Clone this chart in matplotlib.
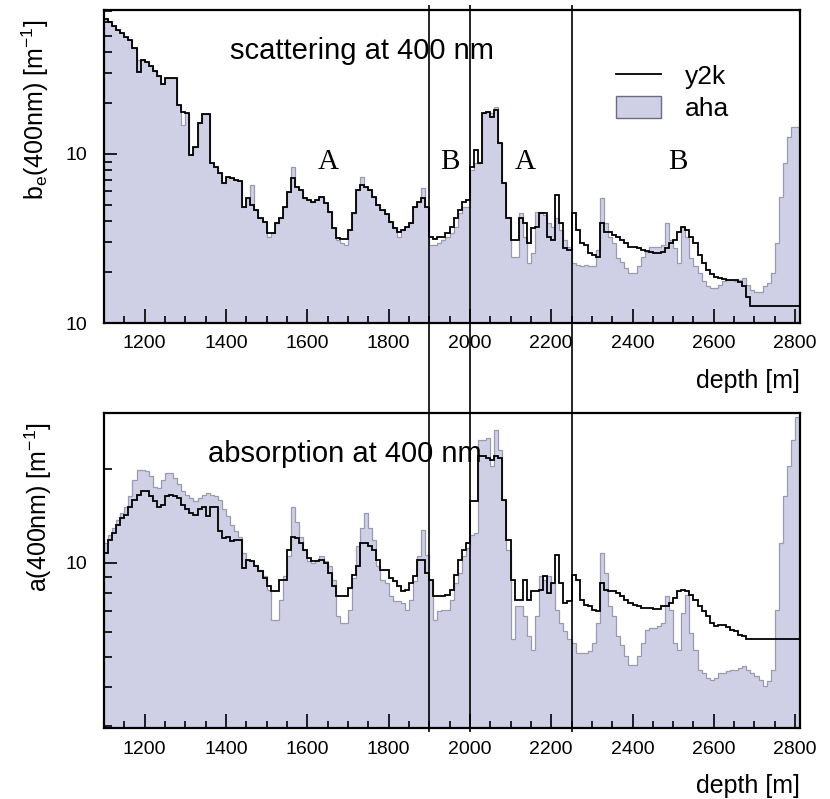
import numpy as np
import matplotlib
matplotlib.use('Agg')
import matplotlib.pyplot as plt
import matplotlib.ticker as mticker
import matplotlib.transforms as mtransforms
from matplotlib.lines import Line2D
from matplotlib.patches import Patch

plt.rcParams['font.family'] = ['Liberation Sans', 'DejaVu Sans']
plt.rcParams['mathtext.fontset'] = 'custom'
plt.rcParams['mathtext.rm'] = 'Liberation Sans'

# 10 m depth bins, 1100 .. 2810 m
depth_edges = np.arange(1100, 2811, 10)

# scattering b_e(400nm) [1/m]
scat_y2k = [0.627, 0.599, 0.572, 0.542, 0.518, 0.490, 0.469, 0.422, 0.307, 0.360,
            0.352, 0.332, 0.311, 0.290, 0.260, 0.280, 0.283, 0.280, 0.195, 0.178,
            0.174, 0.0987, 0.1105, 0.152, 0.172, 0.172, 0.0881, 0.0841, 0.0769, 0.0670,
            0.0734, 0.0718, 0.0702, 0.0696, 0.0488, 0.0546, 0.0499, 0.0466, 0.0416, 0.0398,
            0.0342, 0.0342, 0.0389, 0.0416, 0.0488, 0.0598, 0.0718, 0.0641, 0.0612, 0.0546,
            0.0534, 0.0522, 0.0534, 0.0559, 0.0511, 0.0456, 0.0363, 0.0317, 0.0313, 0.0313,
            0.0355, 0.0446, 0.0612, 0.0655, 0.0641, 0.0612, 0.0559, 0.0499, 0.0466, 0.0442,
            0.0398, 0.0363, 0.0347, 0.0355, 0.0372, 0.0389, 0.0488, 0.0522, 0.0546, 0.0488,
            0.0324, 0.0313, 0.0324, 0.0324, 0.0339, 0.0372, 0.0416, 0.0466, 0.0522, 0.0534,
            0.0841, 0.1056, 0.0881, 0.174, 0.178, 0.166, 0.182, 0.1157, 0.0670, 0.0416,
            0.0310, 0.0310, 0.0416, 0.0389, 0.0296, 0.0363, 0.0372, 0.0446, 0.0446, 0.0324,
            0.0310, 0.0572, 0.0389, 0.0277, 0.0270, 0.0446, 0.0355, 0.0296, 0.0290, 0.0258,
            0.0253, 0.0247, 0.0389, 0.0347, 0.0347, 0.0332, 0.0324, 0.0310, 0.0296, 0.0283,
            0.0281, 0.0277, 0.0270, 0.0268, 0.0264, 0.0260, 0.0260, 0.0264, 0.0277, 0.0296,
            0.0310, 0.0347, 0.0372, 0.0355, 0.0324, 0.0296, 0.0253, 0.0225, 0.0206, 0.0194,
            0.0188, 0.0184, 0.0182, 0.0180, 0.0180, 0.0179, 0.0174, 0.0165, 0.0143, 0.0126,
            0.0126, 0.0126, 0.0126, 0.0126, 0.0126, 0.0126, 0.0126, 0.0126, 0.0126, 0.0126, 0.0126]

scat_aha = [0.627, 0.599, 0.572, 0.542, 0.518, 0.490, 0.469, 0.422, 0.360, 0.360,
            0.352, 0.332, 0.311, 0.290, 0.260, 0.280, 0.283, 0.280, 0.195, 0.148,
            0.174, 0.0987, 0.1105, 0.152, 0.172, 0.172, 0.0881, 0.0841, 0.0769, 0.0670,
            0.0734, 0.0718, 0.0702, 0.0696, 0.0488, 0.0546, 0.0655, 0.0466, 0.0416, 0.0398,
            0.0324, 0.0342, 0.0389, 0.0416, 0.0488, 0.0598, 0.0841, 0.0641, 0.0612, 0.0546,
            0.0534, 0.0522, 0.0534, 0.0559, 0.0511, 0.0456, 0.0363, 0.0310, 0.0296, 0.0290,
            0.0355, 0.0446, 0.0612, 0.0734, 0.0641, 0.0612, 0.0559, 0.0499, 0.0466, 0.0442,
            0.0398, 0.0363, 0.0324, 0.0355, 0.0372, 0.0389, 0.0488, 0.0522, 0.0626, 0.0488,
            0.0290, 0.0290, 0.0296, 0.0310, 0.0324, 0.0339, 0.0372, 0.0446, 0.0488, 0.0488,
            0.0804, 0.0881, 0.0881, 0.174, 0.178, 0.174, 0.1905, 0.1157, 0.0670, 0.0426,
            0.0247, 0.0247, 0.0446, 0.0324, 0.0225, 0.0258, 0.0456, 0.0456, 0.0436, 0.0389,
            0.0372, 0.0416, 0.0355, 0.0310, 0.0283, 0.0225, 0.0221, 0.0216, 0.0221, 0.0216,
            0.0216, 0.0270, 0.0546, 0.0389, 0.0324, 0.0296, 0.0241, 0.0231, 0.0211, 0.0197,
            0.0197, 0.0216, 0.0247, 0.0264, 0.0283, 0.0283, 0.0283, 0.0290, 0.0389, 0.0310,
            0.0277, 0.0225, 0.0372, 0.0324, 0.0241, 0.0216, 0.0197, 0.0176, 0.0165, 0.0161,
            0.0161, 0.0168, 0.0176, 0.0180, 0.0179, 0.0176, 0.0180, 0.0184, 0.0168, 0.0157,
            0.0153, 0.0153, 0.0165, 0.0172, 0.0197, 0.0296, 0.0559, 0.0881, 0.1266, 0.145, 0.145]

# absorption a(400nm) [1/m]
abs_y2k = [0.0107, 0.0118, 0.0124, 0.0132, 0.0139, 0.0142, 0.0151, 0.0159, 0.0165, 0.0169,
           0.0169, 0.0163, 0.0157, 0.0151, 0.0153, 0.0163, 0.0165, 0.0163, 0.0161, 0.0153,
           0.0148, 0.0144, 0.0142, 0.0148, 0.0151, 0.0141, 0.0151, 0.0151, 0.0126, 0.0120,
           0.0121, 0.0117, 0.0118, 0.0118, 0.00962, 0.0102, 0.0101, 0.00973, 0.00938, 0.00893,
           0.0084, 0.0081, 0.0081, 0.00882, 0.00882, 0.0110, 0.0121, 0.0120, 0.01156, 0.0110,
           0.01035, 0.0101, 0.0101, 0.0102, 0.0100, 0.00927, 0.0084, 0.00781, 0.00781, 0.00781,
           0.0083, 0.00915, 0.00973, 0.01156, 0.01156, 0.0113, 0.0110, 0.0102, 0.0095, 0.0095,
           0.00893, 0.00872, 0.0084, 0.0081, 0.0082, 0.00861, 0.00904, 0.0102, 0.0102, 0.00927,
           0.00882, 0.00781, 0.00781, 0.00781, 0.0079, 0.0082, 0.00915, 0.0102, 0.0110, 0.01156,
           0.0157, 0.0157, 0.0219, 0.0219, 0.0216, 0.0213, 0.0219, 0.0216, 0.0159, 0.0118,
           0.00882, 0.00762, 0.00762, 0.00882, 0.00762, 0.0081, 0.0081, 0.0082, 0.00904, 0.0080,
           0.00861, 0.0106, 0.00861, 0.00743, 0.00752, 0.00915, 0.00882, 0.00762, 0.00734, 0.00725,
           0.00708, 0.00699, 0.00861, 0.0082, 0.0081, 0.0081, 0.0080, 0.00781, 0.00762, 0.00743,
           0.00734, 0.00725, 0.00717, 0.00717, 0.00717, 0.00712, 0.00712, 0.00725, 0.00725, 0.00743,
           0.00771, 0.0081, 0.0082, 0.0081, 0.0079, 0.00762, 0.00725, 0.00699, 0.00674, 0.00642,
           0.00626, 0.00634, 0.00634, 0.00623, 0.00611, 0.00604, 0.00589, 0.00582, 0.00571, 0.00571,
           0.00571, 0.00571, 0.00571, 0.00571, 0.00571, 0.00571, 0.00571, 0.00571, 0.00571, 0.00571, 0.00571]

abs_aha = [0.01156, 0.0123, 0.0129, 0.0137, 0.0144, 0.0151, 0.0163, 0.0184, 0.0198, 0.0198,
           0.0196, 0.0189, 0.0175, 0.0173, 0.0184, 0.0193, 0.0193, 0.0187, 0.0178, 0.0169,
           0.0165, 0.0161, 0.0157, 0.0161, 0.0165, 0.0167, 0.0165, 0.0163, 0.0159, 0.0148,
           0.0141, 0.0132, 0.0126, 0.0121, 0.0107, 0.0102, 0.0101, 0.00985, 0.0095, 0.00904,
           0.0082, 0.00658, 0.00658, 0.00762, 0.00904, 0.0105, 0.0151, 0.0135, 0.0121, 0.0110,
           0.0101, 0.0100, 0.0102, 0.0105, 0.0101, 0.00973, 0.00882, 0.00674, 0.00642, 0.00642,
           0.00708, 0.00893, 0.0113, 0.0129, 0.0144, 0.0129, 0.0118, 0.00973, 0.00882, 0.00861,
           0.00781, 0.00752, 0.00752, 0.00743, 0.00708, 0.00762, 0.00872, 0.0105, 0.01275, 0.0106,
           0.00882, 0.00658, 0.00699, 0.00708, 0.00708, 0.00762, 0.00861, 0.00927, 0.0105, 0.0111,
           0.0123, 0.0124, 0.0247, 0.0247, 0.0250, 0.0203, 0.0266, 0.0230, 0.0159, 0.0110,
           0.00568, 0.00725, 0.00725, 0.00674, 0.00582, 0.00527, 0.00674, 0.00904, 0.00882, 0.00904,
           0.00861, 0.00708, 0.00642, 0.00604, 0.00568, 0.00554, 0.00514, 0.00514, 0.00514, 0.00521,
           0.00554, 0.00642, 0.0107, 0.00927, 0.00725, 0.00674, 0.00582, 0.00547, 0.00502, 0.00472,
           0.00472, 0.00502, 0.00554, 0.00611, 0.00619, 0.00619, 0.00626, 0.00642, 0.00781, 0.00708,
           0.00554, 0.00527, 0.00691, 0.0079, 0.00596, 0.00527, 0.00455, 0.00444, 0.00428, 0.00423,
           0.00428, 0.00444, 0.00444, 0.0045, 0.00455, 0.00455, 0.00461, 0.00467, 0.00455, 0.00444,
           0.00433, 0.00423, 0.00403, 0.00418, 0.00455, 0.00708, 0.01156, 0.0163, 0.0203, 0.0247, 0.0293]

boundaries = [1900, 2000, 2250]   # region borders
regions = [(1651, 'A'), (1951, 'B'), (2136, 'A'), (2512, 'B')]

FILL = '#cfd0e5'
EDGE = '#9a9ab0'
W, H = 830, 799
xlim = (1100, 2812)

fig = plt.figure(figsize=(W / 100, H / 100), dpi=100)
ax1 = fig.add_axes([104 / W, 1 - 323 / H, 696 / W, 313 / H])
ax2 = fig.add_axes([104 / W, 1 - 728 / H, 696 / W, 315 / H])


def draw_panel(ax, aha, y2k, ylim, majors, title, title_x):
    ax.stairs(aha, depth_edges, fill=True, color=FILL, baseline=1e-5, zorder=1)
    ax.stairs(aha, depth_edges, color=EDGE, lw=0.9, baseline=None, zorder=2)
    ax.stairs(y2k, depth_edges, color='black', lw=1.3, baseline=None, zorder=3)
    ax.set_yscale('log')
    ax.set_xlim(xlim)
    ax.set_ylim(ylim)
    ax.yaxis.set_major_locator(mticker.FixedLocator(majors))
    ax.yaxis.set_major_formatter(mticker.FixedFormatter(['10'] * len(majors)))
    ax.yaxis.set_minor_locator(mticker.LogLocator(base=10, subs=np.arange(2, 10), numticks=20))
    ax.yaxis.set_minor_formatter(mticker.NullFormatter())
    ax.xaxis.set_major_locator(mticker.MultipleLocator(200))
    ax.xaxis.set_minor_locator(mticker.MultipleLocator(50))
    ax.tick_params(which='both', direction='in', top=False, right=False, labelsize=14, width=1.2)
    ax.tick_params(axis='y', which='major', length=9, pad=12)
    ax.tick_params(axis='y', which='minor', length=6)
    ax.tick_params(axis='x', which='major', length=10, pad=9)
    ax.tick_params(axis='x', which='minor', length=5)
    for s in ax.spines.values():
        s.set_linewidth(1.6)
    ax.text(title_x, 0.87, title, transform=ax.transAxes, fontsize=21,
            ha='left', va='center')
    ax.text(1.0, -0.185, 'depth [m]', transform=ax.transAxes, fontsize=18,
            ha='right', va='center')


draw_panel(ax1, scat_aha, scat_y2k, (0.01, 0.71), [0.01, 0.1],
           'scattering at 400 nm', 0.181)
draw_panel(ax2, abs_aha, abs_y2k, (0.00296, 0.0301), [0.01],
           'absorption at 400 nm', 0.149)

trans = mtransforms.blended_transform_factory(ax1.transData, ax1.transAxes)
for xpos, lab in regions:
    ax1.text(xpos, 0.515, lab, transform=trans, fontsize=21, ha='center', va='center',
             family='Liberation Serif')

handles = [Line2D([], [], color='black', lw=1.3),
           Patch(facecolor=FILL, edgecolor='#6c6c80', lw=1.0)]
ax1.legend(handles, ['y2k', 'aha'], loc='upper left',
           bbox_to_anchor=((616 - 104) / 696, 1 - (64 - 10) / 313),
           frameon=False, fontsize=19, handlelength=1.7, handleheight=0.9,
           handletextpad=0.9, labelspacing=0.28, borderpad=0, borderaxespad=0)

fig.text(35 / W, 1 - 110 / H, r'b$_{\mathregular{e}}$(400nm) [m$^{\mathregular{-1}}$]',
         rotation=90, fontsize=18, ha='center', va='center')
fig.text(38 / W, 1 - 507 / H, r'a(400nm) [m$^{\mathregular{-1}}$]',
         rotation=90, fontsize=18, ha='center', va='center')

# region borders drawn across both panels
ov = fig.add_axes([104 / W, 1 - 732 / H, 696 / W, 727 / H], facecolor='none')
ov.set_xlim(xlim)
ov.set_ylim(0, 1)
ov.axis('off')
for b in boundaries:
    ov.axvline(b, color='black', lw=1.2)

fig.savefig('out.png', dpi=100)
